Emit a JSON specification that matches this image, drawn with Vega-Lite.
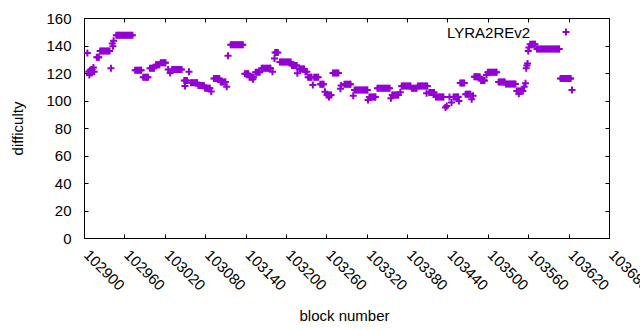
{
"$schema":"https://vega.github.io/schema/vega-lite/v6.json",
"width":525,"height":220,
"autosize":{"type":"none"},
"padding":{"left":84,"top":18,"right":31,"bottom":92},
"background":"white",
"config":{"font":"Liberation Sans","view":{"stroke":"black","strokeWidth":1}},
"data":{"values":[
{"block":102905,"diff":134.5},
{"block":102907,"diff":121},{"block":102908,"diff":118.5},{"block":102909,"diff":122},{"block":102911,"diff":120},{"block":102912,"diff":122.5},{"block":102914,"diff":124},{"block":102915,"diff":121},
{"block":102919,"diff":131.5},{"block":102921,"diff":131.5},{"block":102922,"diff":131.5},
{"block":102924,"diff":136},{"block":102926,"diff":136},{"block":102928,"diff":136},{"block":102930,"diff":136},{"block":102932,"diff":136},{"block":102934,"diff":136},{"block":102936,"diff":136},{"block":102938,"diff":136},
{"block":102940,"diff":123.5},
{"block":102942,"diff":141.5},{"block":102943,"diff":139.5},{"block":102944,"diff":143.5},
{"block":102948,"diff":147.5},{"block":102950,"diff":147.5},{"block":102952,"diff":147.5},{"block":102954,"diff":147.5},{"block":102956,"diff":147.5},{"block":102958,"diff":147.5},{"block":102960,"diff":147.5},{"block":102962,"diff":147.5},{"block":102964,"diff":147.5},{"block":102966,"diff":147.5},{"block":102968,"diff":147.5},{"block":102970,"diff":147.5},{"block":102972,"diff":147.5},
{"block":102976,"diff":122},{"block":102978,"diff":122},{"block":102980,"diff":122},{"block":102982,"diff":122},{"block":102984,"diff":122},{"block":102985,"diff":122},
{"block":102988,"diff":117},{"block":102990,"diff":117},{"block":102992,"diff":117},{"block":102994,"diff":117},{"block":102995,"diff":117},
{"block":102998,"diff":123.5},{"block":103000,"diff":123.5},{"block":103002,"diff":123.5},{"block":103004,"diff":123.5},
{"block":103007,"diff":126},{"block":103009,"diff":126},{"block":103011,"diff":126},{"block":103012,"diff":126},
{"block":103014,"diff":127.5},{"block":103016,"diff":127.5},{"block":103018,"diff":127.5},{"block":103020,"diff":127.5},{"block":103021,"diff":127.5},
{"block":103025,"diff":122.5},{"block":103028,"diff":120},
{"block":103031,"diff":122.5},{"block":103033,"diff":122.5},{"block":103035,"diff":122.5},{"block":103037,"diff":122.5},{"block":103039,"diff":122.5},{"block":103041,"diff":122.5},{"block":103043,"diff":122.5},{"block":103045,"diff":122.5},
{"block":103049,"diff":114.5},{"block":103050,"diff":110.5},{"block":103051,"diff":114.5},{"block":103053,"diff":114.5},
{"block":103056,"diff":121},
{"block":103059,"diff":113},{"block":103061,"diff":113},{"block":103063,"diff":113},{"block":103065,"diff":113},{"block":103067,"diff":113},{"block":103068,"diff":113},
{"block":103070,"diff":111},{"block":103072,"diff":111},{"block":103074,"diff":111},{"block":103076,"diff":111},{"block":103078,"diff":111},
{"block":103080,"diff":109},{"block":103082,"diff":109},{"block":103084,"diff":109},{"block":103086,"diff":109},{"block":103087,"diff":109},
{"block":103089,"diff":106.5},
{"block":103093,"diff":116},{"block":103095,"diff":116},{"block":103097,"diff":116},{"block":103099,"diff":116},{"block":103101,"diff":116},
{"block":103103,"diff":113.5},{"block":103105,"diff":113.5},{"block":103107,"diff":113.5},{"block":103109,"diff":113.5},{"block":103110,"diff":113.5},
{"block":103112,"diff":110},
{"block":103114,"diff":132.5},
{"block":103118,"diff":140.5},{"block":103120,"diff":140.5},{"block":103122,"diff":140.5},{"block":103124,"diff":140.5},{"block":103126,"diff":140.5},{"block":103128,"diff":140.5},{"block":103130,"diff":140.5},{"block":103132,"diff":140.5},{"block":103134,"diff":140.5},{"block":103136,"diff":140.5},
{"block":103139,"diff":119.5},{"block":103141,"diff":119.5},{"block":103143,"diff":119.5},{"block":103144,"diff":119.5},
{"block":103146,"diff":117},{"block":103148,"diff":117},{"block":103150,"diff":117},{"block":103151,"diff":115.5},{"block":103152,"diff":117},
{"block":103155,"diff":120.5},{"block":103157,"diff":120.5},{"block":103159,"diff":120.5},{"block":103161,"diff":120.5},
{"block":103164,"diff":123.5},{"block":103166,"diff":123.5},{"block":103168,"diff":123.5},{"block":103170,"diff":123.5},{"block":103172,"diff":123.5},{"block":103174,"diff":123.5},{"block":103176,"diff":123.5},{"block":103177,"diff":123.5},
{"block":103180,"diff":121},
{"block":103183,"diff":130.5},{"block":103184,"diff":135},{"block":103186,"diff":135},{"block":103188,"diff":135},
{"block":103191,"diff":128},{"block":103193,"diff":128},{"block":103195,"diff":128},{"block":103197,"diff":128},{"block":103199,"diff":128},{"block":103201,"diff":128},{"block":103203,"diff":128},{"block":103205,"diff":128},{"block":103207,"diff":128},
{"block":103209,"diff":125.5},{"block":103211,"diff":125.5},{"block":103213,"diff":125.5},{"block":103215,"diff":125.5},{"block":103216,"diff":125.5},{"block":103217,"diff":119.8},
{"block":103220,"diff":123},{"block":103222,"diff":123},{"block":103224,"diff":123},{"block":103226,"diff":123},{"block":103227,"diff":123},
{"block":103229,"diff":121},{"block":103231,"diff":121},
{"block":103233,"diff":117},{"block":103235,"diff":117},{"block":103237,"diff":117},{"block":103238,"diff":117},
{"block":103240,"diff":111.3},
{"block":103242,"diff":117},{"block":103244,"diff":117},{"block":103246,"diff":117},{"block":103248,"diff":117},
{"block":103251,"diff":111.8},{"block":103253,"diff":111.8},{"block":103255,"diff":111.8},{"block":103256,"diff":111.8},
{"block":103258,"diff":106.4},
{"block":103261,"diff":104},{"block":103263,"diff":104},{"block":103264,"diff":102.5},{"block":103265,"diff":104},{"block":103267,"diff":104},
{"block":103270,"diff":120},{"block":103272,"diff":120},{"block":103274,"diff":120},{"block":103276,"diff":120},{"block":103278,"diff":120},
{"block":103281,"diff":108.5},{"block":103282,"diff":111},
{"block":103287,"diff":111.8},{"block":103289,"diff":111.8},{"block":103291,"diff":111.8},{"block":103293,"diff":111.8},{"block":103295,"diff":111.8},{"block":103296,"diff":111.8},
{"block":103300,"diff":103.5},
{"block":103302,"diff":107.6},{"block":103304,"diff":107.6},{"block":103306,"diff":107.6},{"block":103308,"diff":107.6},{"block":103310,"diff":107.6},{"block":103312,"diff":107.6},{"block":103314,"diff":107.6},{"block":103316,"diff":107.6},{"block":103318,"diff":107.6},{"block":103320,"diff":107.6},{"block":103321,"diff":107.6},
{"block":103322,"diff":100.4},
{"block":103324,"diff":102.5},{"block":103326,"diff":102.5},{"block":103328,"diff":102.5},{"block":103330,"diff":102.5},{"block":103332,"diff":102.5},{"block":103333,"diff":102.5},
{"block":103336,"diff":109},{"block":103338,"diff":109},{"block":103340,"diff":109},{"block":103342,"diff":109},{"block":103344,"diff":109},{"block":103346,"diff":109},{"block":103348,"diff":109},{"block":103350,"diff":109},{"block":103352,"diff":109},{"block":103354,"diff":109},
{"block":103356,"diff":101.6},
{"block":103358,"diff":104},{"block":103360,"diff":104},{"block":103362,"diff":104},{"block":103364,"diff":104},{"block":103366,"diff":104},{"block":103367,"diff":104},
{"block":103370,"diff":106},
{"block":103372,"diff":110.5},{"block":103374,"diff":110.5},{"block":103376,"diff":110.5},{"block":103378,"diff":110.5},{"block":103380,"diff":110.5},{"block":103382,"diff":110.5},{"block":103384,"diff":110.5},{"block":103385,"diff":110.5},
{"block":103387,"diff":109},{"block":103389,"diff":109},{"block":103391,"diff":109},{"block":103393,"diff":109},{"block":103394,"diff":109},
{"block":103396,"diff":110.5},{"block":103398,"diff":110.5},{"block":103400,"diff":110.5},{"block":103402,"diff":110.5},{"block":103404,"diff":110.5},{"block":103406,"diff":110.5},{"block":103408,"diff":110.5},{"block":103409,"diff":105.2},{"block":103410,"diff":110.5},
{"block":103413,"diff":105.8},{"block":103415,"diff":105.8},{"block":103417,"diff":105.8},{"block":103419,"diff":105.8},{"block":103420,"diff":105.8},
{"block":103423,"diff":102.5},{"block":103425,"diff":102.5},{"block":103427,"diff":102.5},{"block":103429,"diff":102.5},{"block":103431,"diff":102.5},{"block":103433,"diff":102.5},{"block":103434,"diff":102.5},
{"block":103437,"diff":95},{"block":103439,"diff":96},
{"block":103443,"diff":102.5},{"block":103446,"diff":98.5},
{"block":103449,"diff":102.5},{"block":103451,"diff":102.5},{"block":103453,"diff":102.5},{"block":103455,"diff":102.5},{"block":103456,"diff":102.5},{"block":103457,"diff":99.6},
{"block":103459,"diff":112.7},{"block":103461,"diff":112.7},{"block":103463,"diff":112.7},{"block":103465,"diff":112.7},
{"block":103467,"diff":104.5},{"block":103469,"diff":104.5},{"block":103471,"diff":104.5},{"block":103473,"diff":104.5},{"block":103474,"diff":104.5},
{"block":103476,"diff":101},{"block":103478,"diff":103.5},
{"block":103480,"diff":117.3},{"block":103482,"diff":117.3},{"block":103484,"diff":117.3},{"block":103486,"diff":117.3},{"block":103488,"diff":117.3},
{"block":103490,"diff":114.5},{"block":103492,"diff":114.5},{"block":103494,"diff":114.5},{"block":103495,"diff":114.5},
{"block":103498,"diff":118.5},
{"block":103500,"diff":120.5},{"block":103502,"diff":120.5},{"block":103504,"diff":120.5},{"block":103506,"diff":120.5},{"block":103508,"diff":120.5},{"block":103510,"diff":120.5},{"block":103512,"diff":120.5},{"block":103513,"diff":120.5},
{"block":103516,"diff":113.5},{"block":103518,"diff":113.5},{"block":103520,"diff":113.5},{"block":103522,"diff":113.5},{"block":103524,"diff":113.5},{"block":103525,"diff":113.5},
{"block":103527,"diff":112},{"block":103529,"diff":112},{"block":103531,"diff":112},{"block":103533,"diff":112},{"block":103535,"diff":112},{"block":103537,"diff":112},{"block":103539,"diff":112},{"block":103541,"diff":112},
{"block":103543,"diff":107},{"block":103545,"diff":107},{"block":103546,"diff":105},{"block":103547,"diff":107},{"block":103549,"diff":107},{"block":103551,"diff":107},{"block":103552,"diff":107},
{"block":103554,"diff":110},{"block":103556,"diff":112.5},{"block":103557,"diff":123.4},{"block":103558,"diff":125.5},{"block":103559,"diff":127},{"block":103560,"diff":136},{"block":103561,"diff":138.5},
{"block":103563,"diff":141},{"block":103565,"diff":141},{"block":103567,"diff":141},{"block":103569,"diff":141},{"block":103570,"diff":141},
{"block":103573,"diff":137.5},{"block":103575,"diff":137.5},{"block":103577,"diff":137.5},{"block":103579,"diff":137.5},{"block":103581,"diff":137.5},{"block":103583,"diff":137.5},{"block":103585,"diff":137.5},{"block":103587,"diff":137.5},{"block":103589,"diff":137.5},{"block":103591,"diff":137.5},{"block":103593,"diff":137.5},{"block":103595,"diff":137.5},{"block":103597,"diff":137.5},{"block":103599,"diff":137.5},{"block":103601,"diff":137.5},{"block":103603,"diff":137.5},{"block":103605,"diff":137.5},{"block":103606,"diff":137.5},
{"block":103608,"diff":116},{"block":103610,"diff":116},{"block":103612,"diff":116},{"block":103614,"diff":116},{"block":103616,"diff":116},{"block":103618,"diff":116},{"block":103620,"diff":116},{"block":103622,"diff":116},{"block":103623,"diff":116},
{"block":103625,"diff":107.6}
]},
"layer":[
{"mark":{"type":"point","shape":"M-1,0H1M0,-1V1","filled":false,"strokeWidth":2,"size":49,"opacity":1},
 "encoding":{
  "x":{"field":"block","type":"quantitative","scale":{"domain":[102900,103680],"nice":false,"zero":false},
   "axis":{"orient":"bottom","values":[102900,102960,103020,103080,103140,103200,103260,103320,103380,103440,103500,103560,103620,103680],"format":"d","labelAngle":45,"labelAlign":"left","labelBaseline":"middle","tickSize":-4,"tickColor":"black","labelPadding":18,"labelOffset":2,"labelFlush":false,"labelOverlap":false,"labelFontSize":15,"labelColor":"black","domain":false,"grid":false,"title":"block number","titleFontSize":15,"titleFontWeight":"normal","titleColor":"black","titleX":260,"titleY":77,"titleBaseline":"middle","titleAlign":"center"}},
  "y":{"field":"diff","type":"quantitative","scale":{"domain":[0,160],"nice":false,"zero":true},
   "axis":{"orient":"left","values":[0,20,40,60,80,100,120,140,160],"tickSize":-4,"tickColor":"black","labelPadding":17,"labelFlush":false,"labelFontSize":15,"labelColor":"black","domain":false,"grid":false,"title":"difficulty","titleFontSize":15,"titleFontWeight":"normal","titleColor":"black","titleX":-67,"titleY":110,"titleAngle":-90,"titleBaseline":"middle","titleAlign":"center"}},
  "color":{"datum":"LYRA2REv2","scale":{"range":["#9400D3"]},
   "legend":{"orient":"none","legendX":363,"legendY":9,"title":"LYRA2REv2","titleOrient":"left","titleFontSize":15,"titleFontWeight":"normal","titleColor":"black","titlePadding":30,"labelExpr":"''","symbolType":"M-1,0H1M0,-1V1","symbolSize":49,"symbolStrokeWidth":2,"symbolStrokeColor":"#9400D3","symbolFillColor":"transparent","symbolOpacity":1}}
 }},
{"mark":{"type":"point","opacity":0},
 "encoding":{
  "x":{"field":"block","type":"quantitative","axis":{"orient":"top","values":[102900,102960,103020,103080,103140,103200,103260,103320,103380,103440,103500,103560,103620,103680],"labels":false,"tickSize":-4,"tickColor":"black","domain":false,"grid":false,"title":null}},
  "y":{"field":"diff","type":"quantitative","axis":{"orient":"right","values":[0,20,40,60,80,100,120,140,160],"labels":false,"tickSize":-4,"tickColor":"black","domain":false,"grid":false,"title":null}}
 }}
],
"resolve":{"axis":{"x":"independent","y":"independent"}}
}
